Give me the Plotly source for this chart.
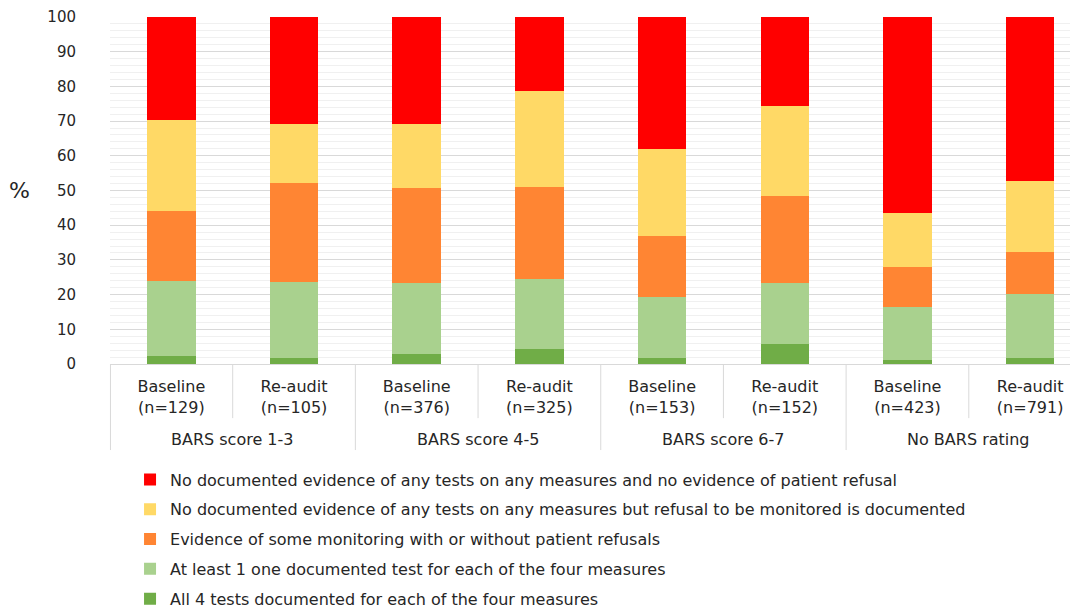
import plotly.graph_objects as go

# ---- data (percent of patients) ----
bar_labels = ["Baseline<br>(n=129)", "Re-audit<br>(n=105)",
              "Baseline<br>(n=376)", "Re-audit<br>(n=325)",
              "Baseline<br>(n=153)", "Re-audit<br>(n=152)",
              "Baseline<br>(n=423)", "Re-audit<br>(n=791)"]
group_labels = ["BARS score 1-3", "BARS score 4-5", "BARS score 6-7", "No BARS rating"]

all4_tests = [2.2, 1.8, 2.9, 4.3, 1.8, 5.9, 1.2, 1.8]
at_least_one = [21.6, 21.9, 20.5, 20.1, 17.6, 17.5, 15.1, 18.4]
some_monitoring = [20.4, 28.4, 27.3, 26.6, 17.6, 25.1, 11.7, 12.1]
refusal_documented = [26.2, 17.1, 18.5, 27.7, 25.1, 25.8, 15.5, 20.5]
no_evidence = [29.6, 30.8, 30.8, 21.3, 37.9, 25.7, 56.5, 47.2]

series_names = [
    "All 4 tests documented for each of the four measures",
    "At least 1 one documented test for each of the four measures",
    "Evidence of some monitoring with or without patient refusals",
    "No documented evidence of any tests on any measures but refusal to be monitored is documented",
    "No documented evidence of any tests on any measures and no evidence of patient refusal",
]
series_values = [all4_tests, at_least_one, some_monitoring, refusal_documented, no_evidence]
series_colors = ["#70AD47", "#A9D18E", "#FF8533", "#FFD966", "#FF0000"]

FONT = "DejaVu Sans"
TXT = "#262626"

# the page body has an 8px margin, so the figure is 1070x600 placed at (8, 8)
FIG_W, FIG_H = 1070, 600
L, T, W, H = 102, 9, 968, 347   # plot area inside the figure, in pixels

x_pos = list(range(len(bar_labels)))

fig = go.Figure()
for i, (name, vals, col) in enumerate(zip(series_names, series_values, series_colors)):
    fig.add_trace(go.Bar(
        x=x_pos, y=vals, name=name, marker=dict(color=col, line=dict(width=0)),
        width=0.395, legendgroup=f"g{i}", legendrank=len(series_names) - i,
    ))

# separators below the category axis
shapes = []
for k in range(1, len(bar_labels) + 1):
    xv = k - 0.5
    is_group = (k % 2 == 0)
    y1 = -0.248 if is_group else -0.156
    shapes.append(dict(type="line", xref="x", yref="paper", x0=xv, x1=xv,
                       y0=0, y1=y1, line=dict(color="#d9d9d9", width=1)))
# left boundary (exactly on plot edge)
shapes.append(dict(type="line", xref="paper", yref="paper", x0=0.0005, x1=0.0005,
                   y0=0, y1=-0.248, line=dict(color="#d9d9d9", width=1)))

annotations = []
for g, lab in enumerate(group_labels):
    annotations.append(dict(text=lab, x=2 * g + 0.5, xref="x", y=-0.218, yref="paper",
                            showarrow=False, xanchor="center", yanchor="middle",
                            font=dict(family=FONT, size=16, color=TXT)))
annotations.append(dict(text="%", x=-90.5 / W, xref="paper",
                        y=(H - 173) / H, yref="paper",
                        xanchor="center", yanchor="middle",
                        showarrow=False, font=dict(family=FONT, size=22, color=TXT)))

fig.update_layout(
    width=FIG_W, height=FIG_H,
    margin=dict(l=L, r=FIG_W - L - W, t=T, b=FIG_H - T - H, pad=0, autoexpand=False),
    paper_bgcolor="white", plot_bgcolor="white",
    barmode="stack", bargap=0,
    font=dict(family=FONT, size=15, color=TXT),
    showlegend=True,
    legend=dict(orientation="v", x=0.0207, xanchor="left", y=-0.284, yanchor="top",
                traceorder="grouped", tracegroupgap=6,
                font=dict(family=FONT, size=16, color=TXT),
                bgcolor="rgba(0,0,0,0)"),
    shapes=shapes, annotations=annotations,
    xaxis=dict(range=[-0.5, 7.39], tickmode="array", tickvals=x_pos, ticktext=bar_labels,
               showgrid=False, zeroline=False, showline=True, linecolor="#d9d9d9",
               ticks="", ticklabelstandoff=8, automargin=False,
               tickfont=dict(family=FONT, size=16, color=TXT), fixedrange=True),
    yaxis=dict(range=[0, 100], tickmode="linear", tick0=0, dtick=10,
               showgrid=True, gridcolor="#d9d9d9", gridwidth=1, zeroline=False,
               showline=False, ticks="", ticklabelstandoff=33, automargin=False,
               tickfont=dict(family=FONT, size=15, color=TXT),
               minor=dict(dtick=2, showgrid=True, gridcolor="#f0f0f0", gridwidth=1),
               fixedrange=True),
)

fig.write_html("out.html")
